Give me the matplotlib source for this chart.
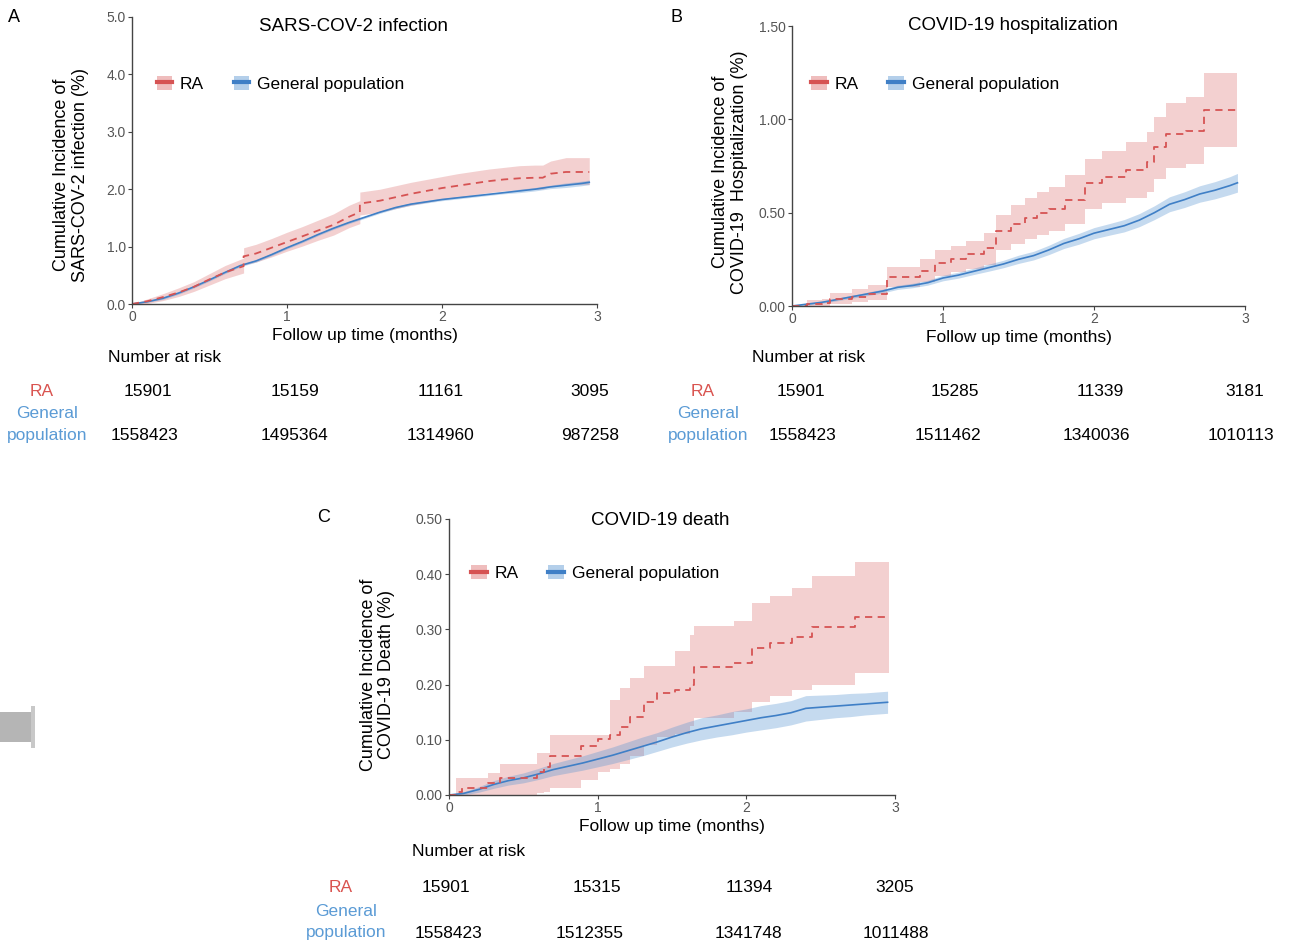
import matplotlib
matplotlib.use("Agg")
import matplotlib.pyplot as plt
from matplotlib.patches import Patch, Rectangle
from matplotlib.lines import Line2D

plt.rcParams['font.family'] = ['Liberation Sans', 'DejaVu Sans']

RED = '#d65353'
RED_FILL = '#dc6e6e'
BLUE = '#3f7fc6'
BLUE_FILL = '#5a96d2'
RED_TXT = '#d9534f'
BLUE_TXT = '#5b9bd5'

# ---- panel A: SARS-COV-2 infection ----
a_gen_t = [0, 0.1, 0.2, 0.3, 0.4, 0.5, 0.6, 0.7, 0.8, 0.9, 1.0, 1.1, 1.2, 1.3, 1.4, 1.5,
           1.6, 1.7, 1.8, 1.9, 2.0, 2.1, 2.2, 2.3, 2.4, 2.5, 2.6, 2.7, 2.8, 2.9, 2.95]
a_gen = [0, 0.04, 0.10, 0.19, 0.30, 0.42, 0.55, 0.67, 0.75, 0.86, 0.98, 1.09, 1.21, 1.32, 1.42, 1.51,
         1.60, 1.68, 1.74, 1.78, 1.82, 1.85, 1.88, 1.91, 1.94, 1.97, 2.00, 2.04, 2.07, 2.10, 2.12]
a_gen_lo = [0, 0.03, 0.08, 0.17, 0.28, 0.40, 0.53, 0.65, 0.73, 0.84, 0.96, 1.07, 1.19, 1.30, 1.40, 1.49,
            1.58, 1.66, 1.72, 1.76, 1.80, 1.83, 1.86, 1.89, 1.92, 1.94, 1.97, 2.01, 2.03, 2.06, 2.08]
a_gen_hi = [0, 0.05, 0.12, 0.21, 0.32, 0.44, 0.57, 0.69, 0.77, 0.88, 1.00, 1.11, 1.23, 1.34, 1.44, 1.53,
            1.62, 1.70, 1.76, 1.80, 1.84, 1.87, 1.90, 1.93, 1.96, 2.00, 2.03, 2.07, 2.11, 2.14, 2.16]
a_ra_t = [0, 0.1, 0.2, 0.3, 0.4, 0.5, 0.6, 0.72, 0.72, 0.8, 0.9, 1.0, 1.1, 1.2, 1.3, 1.4, 1.47, 1.47,
          1.6, 1.7, 1.8, 1.9, 2.0, 2.1, 2.2, 2.3, 2.4, 2.5, 2.6, 2.65, 2.7, 2.8, 2.95]
a_ra = [0, 0.05, 0.12, 0.20, 0.30, 0.43, 0.55, 0.66, 0.83, 0.88, 0.98, 1.08, 1.18, 1.28, 1.38, 1.52, 1.60, 1.75,
        1.80, 1.86, 1.92, 1.97, 2.02, 2.06, 2.10, 2.14, 2.17, 2.19, 2.20, 2.20, 2.27, 2.30, 2.30]
a_ra_lo = [0, 0.01, 0.06, 0.13, 0.22, 0.33, 0.44, 0.54, 0.68, 0.73, 0.82, 0.92, 1.01, 1.11, 1.20, 1.33, 1.40, 1.55,
           1.60, 1.66, 1.72, 1.77, 1.82, 1.86, 1.90, 1.94, 1.97, 1.99, 2.00, 2.00, 2.06, 2.08, 2.08]
a_ra_hi = [0, 0.09, 0.18, 0.28, 0.39, 0.53, 0.67, 0.80, 0.98, 1.04, 1.14, 1.25, 1.35, 1.46, 1.57, 1.72, 1.80, 1.95,
           2.00, 2.06, 2.12, 2.17, 2.22, 2.27, 2.31, 2.35, 2.38, 2.41, 2.42, 2.42, 2.49, 2.55, 2.55]

# ---- panel B: COVID-19 hospitalization ----
b_gen_t = a_gen_t
b_gen = [0, 0.01, 0.02, 0.035, 0.05, 0.065, 0.08, 0.10, 0.11, 0.125, 0.15, 0.165, 0.185, 0.205, 0.225, 0.25,
         0.27, 0.30, 0.335, 0.36, 0.39, 0.41, 0.43, 0.46, 0.50, 0.545, 0.57, 0.60, 0.62, 0.645, 0.66]
b_gen_lo = [0, 0.005, 0.015, 0.028, 0.042, 0.056, 0.07, 0.089, 0.098, 0.112, 0.135, 0.149, 0.168, 0.186, 0.205, 0.228,
            0.247, 0.275, 0.308, 0.331, 0.36, 0.379, 0.397, 0.425, 0.463, 0.505, 0.528, 0.556, 0.574, 0.597, 0.61]
b_gen_hi = [0, 0.015, 0.025, 0.042, 0.058, 0.074, 0.09, 0.111, 0.122, 0.138, 0.165, 0.181, 0.202, 0.224, 0.245, 0.272,
            0.293, 0.325, 0.362, 0.389, 0.42, 0.441, 0.463, 0.495, 0.537, 0.585, 0.612, 0.644, 0.666, 0.693, 0.71]
b_ra_t = [0, 0.1, 0.2, 0.25, 0.4, 0.5, 0.63, 0.85, 0.95, 1.05, 1.15, 1.27, 1.35, 1.45, 1.54, 1.62,
          1.7, 1.81, 1.94, 2.05, 2.21, 2.35, 2.4, 2.48, 2.61, 2.73, 2.95]
b_ra = [0, 0.01, 0.015, 0.035, 0.05, 0.065, 0.155, 0.19, 0.23, 0.25, 0.28, 0.31, 0.40, 0.44, 0.47, 0.50,
        0.52, 0.57, 0.66, 0.69, 0.73, 0.77, 0.85, 0.92, 0.94, 1.05, 1.05]
b_ra_lo = [0, 0, 0, 0.01, 0.02, 0.03, 0.10, 0.13, 0.16, 0.18, 0.20, 0.22, 0.30, 0.33, 0.36, 0.38,
           0.40, 0.44, 0.52, 0.55, 0.58, 0.61, 0.68, 0.74, 0.76, 0.85, 0.85]
b_ra_hi = [0, 0.03, 0.04, 0.07, 0.09, 0.11, 0.21, 0.25, 0.30, 0.32, 0.35, 0.39, 0.49, 0.54, 0.58, 0.61,
           0.64, 0.70, 0.79, 0.83, 0.88, 0.93, 1.01, 1.09, 1.12, 1.25, 1.25]

# ---- panel C: COVID-19 death ----
c_gen_t = a_gen_t
c_gen = [0, 0.003, 0.01, 0.019, 0.026, 0.031, 0.038, 0.046, 0.052, 0.058, 0.065, 0.072, 0.08, 0.088, 0.096, 0.105,
         0.113, 0.12, 0.125, 0.13, 0.135, 0.14, 0.144, 0.149, 0.157, 0.159, 0.161, 0.163, 0.165, 0.167, 0.168]
c_gen_lo = [0, 0, 0.005, 0.012, 0.018, 0.022, 0.028, 0.035, 0.04, 0.045, 0.051, 0.057, 0.064, 0.071, 0.079, 0.087,
            0.094, 0.1, 0.105, 0.109, 0.114, 0.118, 0.122, 0.127, 0.134, 0.137, 0.14, 0.142, 0.145, 0.147, 0.148]
c_gen_hi = [0, 0.006, 0.015, 0.026, 0.034, 0.04, 0.048, 0.057, 0.064, 0.071, 0.079, 0.087, 0.096, 0.105, 0.113, 0.123,
            0.132, 0.14, 0.145, 0.151, 0.156, 0.162, 0.166, 0.171, 0.18, 0.181, 0.182, 0.184, 0.185, 0.187, 0.188]
c_ra_t = [0, 0.05, 0.09, 0.26, 0.34, 0.59, 0.64, 0.68, 0.89, 1.0, 1.08, 1.15, 1.22, 1.31, 1.40, 1.52,
          1.62, 1.65, 1.92, 2.04, 2.16, 2.31, 2.44, 2.73, 2.96]
c_ra = [0, 0.005, 0.013, 0.022, 0.031, 0.042, 0.051, 0.070, 0.088, 0.101, 0.109, 0.124, 0.142, 0.169, 0.184, 0.19,
        0.20, 0.232, 0.24, 0.266, 0.275, 0.287, 0.304, 0.322, 0.322]
c_ra_lo = [0, 0, 0, 0, 0, 0.004, 0.006, 0.012, 0.027, 0.042, 0.048, 0.057, 0.07, 0.09, 0.105, 0.11,
           0.125, 0.14, 0.15, 0.169, 0.18, 0.19, 0.2, 0.221, 0.221]
c_ra_hi = [0, 0.03, 0.03, 0.039, 0.057, 0.076, 0.076, 0.109, 0.109, 0.109, 0.172, 0.193, 0.212, 0.233, 0.233, 0.26,
           0.29, 0.306, 0.316, 0.348, 0.36, 0.375, 0.396, 0.423, 0.423]

# number at risk tables
risk_a_ra = ['15901', '15159', '11161', '3095']
risk_a_gen = ['1558423', '1495364', '1314960', '987258']
risk_b_ra = ['15901', '15285', '11339', '3181']
risk_b_gen = ['1558423', '1511462', '1340036', '1010113']
risk_c_ra = ['15901', '15315', '11394', '3205']
risk_c_gen = ['1558423', '1512355', '1341748', '1011488']

W, H = 1296, 948
fig = plt.figure(figsize=(W / 100, H / 100), dpi=100)


def px(x, y):
    return x / W, 1 - y / H


def panel(rect, gen, ra, ra_steps, ylim, yticks, yfmt, title, title_xy, ylabel, ylab_xy, leg_xy):
    ax = fig.add_axes(rect)
    gt, gv, glo, ghi = gen
    rt, rv, rlo, rhi = ra
    if ra_steps:
        ax.fill_between(rt, rlo, rhi, step='post', color=RED_FILL, alpha=0.32, lw=0)
    else:
        ax.fill_between(rt, rlo, rhi, color=RED_FILL, alpha=0.32, lw=0)
    ax.fill_between(gt, glo, ghi, color=BLUE_FILL, alpha=0.35, lw=0)
    ax.plot(gt, gv, color=BLUE, lw=1.2)
    ax.plot(rt, rv, drawstyle='steps-post' if ra_steps else 'default',
            color=RED, lw=1.3, ls=(0, (4, 3)))
    ax.set_xlim(0, 3)
    ax.set_ylim(*ylim)
    ax.set_xticks([0, 1, 2, 3])
    ax.set_yticks(yticks)
    ax.set_yticklabels([yfmt.format(v) for v in yticks])
    for s in ['top', 'right']:
        ax.spines[s].set_visible(False)
    for s in ['left', 'bottom']:
        ax.spines[s].set_color('#444444')
        ax.spines[s].set_linewidth(1.0)
    ax.tick_params(direction='out', length=3, width=0.8, colors='#444444',
                   labelsize=10, labelcolor='#555555', pad=1.5)
    ax.set_xlabel('Follow up time (months)', fontsize=12.5, labelpad=3)
    ax.set_ylabel(ylabel, fontsize=13, linespacing=1.15)
    ax.yaxis.set_label_coords(*ylab_xy)
    ax.text(title_xy[0], title_xy[1], title, transform=ax.transAxes,
            ha='center', va='center', fontsize=13.5)
    handles = [(Patch(facecolor=RED_FILL, alpha=0.45, lw=0), Line2D([], [], color=RED, lw=3)),
               (Patch(facecolor=BLUE_FILL, alpha=0.45, lw=0), Line2D([], [], color=BLUE, lw=3))]
    ax.legend(handles, ['RA', 'General population'], ncol=2, frameon=False,
              loc='center left', bbox_to_anchor=leg_xy, borderpad=0, borderaxespad=0,
              handlelength=0.9, handleheight=0.9, handletextpad=0.45, columnspacing=1.7,
              fontsize=12.5)
    return ax


def risk_table(head_xy, ra_lab_x, y_ra, y_gen1, y_gen2, ra_xs, gen_xs, ra_vals, gen_vals):
    fig.text(*px(*head_xy), 'Number at risk', fontsize=12.5, ha='left', va='center')
    fig.text(*px(ra_lab_x, y_ra), 'RA', fontsize=12.5, color=RED_TXT, ha='center', va='center')
    fig.text(*px(ra_lab_x + 5, y_gen1), 'General', fontsize=12.5, color=BLUE_TXT, ha='center', va='center')
    fig.text(*px(ra_lab_x + 5, y_gen2), 'population', fontsize=12.5, color=BLUE_TXT, ha='center', va='center')
    for x, v in zip(ra_xs, ra_vals):
        fig.text(*px(x, y_ra), v, fontsize=12.5, ha='center', va='center')
    for x, v in zip(gen_xs, gen_vals):
        fig.text(*px(x, y_gen2), v, fontsize=12.5, ha='center', va='center')


panel([132 / W, 1 - 304 / H, 465 / W, 287 / H],
      (a_gen_t, a_gen, a_gen_lo, a_gen_hi), (a_ra_t, a_ra, a_ra_lo, a_ra_hi), False,
      (0, 5.0), [0, 1, 2, 3, 4, 5], '{:.1f}', 'SARS-COV-2 infection', (0.477, 0.966),
      'Cumulative Incidence of\nSARS-COV-2 infection (%)', (-0.093, 0.45), (0.053, 0.767))

panel([792 / W, 1 - 306 / H, 453 / W, 280 / H],
      (b_gen_t, b_gen, b_gen_lo, b_gen_hi), (b_ra_t, b_ra, b_ra_lo, b_ra_hi), True,
      (0, 1.5), [0, 0.5, 1.0, 1.5], '{:.2f}', 'COVID-19 hospitalization', (0.487, 1.0),
      'Cumulative Incidence of\nCOVID-19  Hospitalization (%)', (-0.098, 0.479), (0.042, 0.793))

panel([449 / W, 1 - 795 / H, 446 / W, 276 / H],
      (c_gen_t, c_gen, c_gen_lo, c_gen_hi), (c_ra_t, c_ra, c_ra_lo, c_ra_hi), True,
      (0, 0.5), [0, 0.1, 0.2, 0.3, 0.4, 0.5], '{:.2f}', 'COVID-19 death', (0.473, 0.995),
      'Cumulative Incidence of\nCOVID-19 Death (%)', (-0.12, 0.435), (0.050, 0.804))

risk_table((108, 357), 42, 391, 414, 436, [148, 295, 441, 590], [145, 295, 441, 590],
           risk_a_ra, risk_a_gen)
risk_table((752, 357), 703, 391, 414, 436, [801, 955, 1100, 1245], [802, 948, 1096, 1241],
           risk_b_ra, risk_b_gen)
risk_table((412, 852), 341, 887, 912, 933, [446, 597, 749, 895], [449, 590, 748, 896],
           risk_c_ra, risk_c_gen)

# panel letters
fig.text(*px(14, 18), 'A', fontsize=13, ha='center', va='center')
fig.text(*px(676, 18), 'B', fontsize=13, ha='center', va='center')
fig.text(*px(324, 518), 'C', fontsize=13, ha='center', va='center')

# grey mark at left edge
fig.patches.append(Rectangle(px(0, 742), 32 / W, 30 / H, transform=fig.transFigure,
                             facecolor='#b5b5b5', edgecolor='none'))
fig.patches.append(Rectangle(px(31, 748), 4 / W, 42 / H, transform=fig.transFigure,
                             facecolor='#c8c8c8', edgecolor='none'))

fig.savefig('out.png', dpi=100)
